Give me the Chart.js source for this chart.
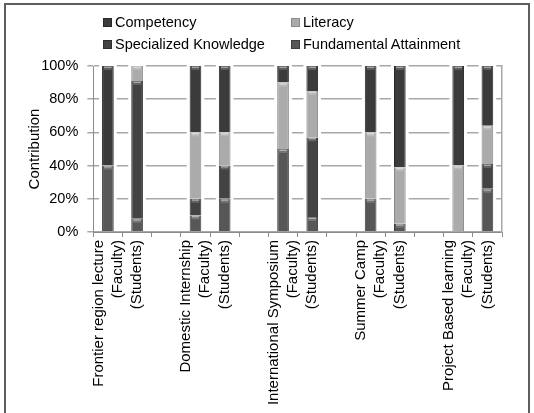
<!DOCTYPE html>
<html>
<head>
<meta charset="utf-8">
<script src="https://cdn.jsdelivr.net/npm/chart.js@4.4.1/dist/chart.umd.min.js"></script>
<style>
  html, body { margin: 0; padding: 0; background: #fff; }
  #wrap { position: relative; width: 534px; height: 413px; overflow: hidden; font-family: "Liberation Sans", Arial, sans-serif; }
  #frame { position: absolute; left: 4px; top: 3px; width: 526px; height: 420px; border: 2px solid #5e5e5e; box-sizing: border-box; }
  #chart { position: absolute; left: 0; top: 0; }
  #legend { position: absolute; left: 103px; top: 11px; display: grid; grid-template-columns: 188px 188px; grid-auto-rows: 22px; font-size: 14.5px; color: #000; }
  .item { display: flex; align-items: center; white-space: nowrap; }
  .box { width: 9px; height: 9px; margin-right: 3px; box-sizing: border-box; }
</style>
</head>
<body>
<div id="wrap">
  <div id="frame"></div>
  <canvas id="chart" width="534" height="413"></canvas>
  <div id="legend"></div>
</div>
<script>
// Category slots (empty strings are the spacer slots between activity groups)
const facultyLabels = [
  ["Frontier region lecture", "(Faculty)"], "", "",
  ["Domestic Internship", "(Faculty)"], "", "",
  ["International Symposium", "(Faculty)"], "", "",
  ["Summer Camp", "(Faculty)"], "", "",
  ["Project Based learning", "(Faculty)"], ""
];
const studentLabels = [
  "", "(Students)", "",
  "", "(Students)", "",
  "", "(Students)", "",
  "", "(Students)", "",
  "", "(Students)"
];
// Series values (percent contribution)
const fundamentalAttainment = [40, 8, null, 10, 20, null, 50, 9, null, 20, 5, null, 0, 26];
const specializedKnowledge  = [0, 83, null, 10, 20, null, 0, 48, null, 0, 0, null, 0, 15];
const literacy              = [0, 9, null, 40, 20, null, 40, 28, null, 40, 34, null, 40, 23];
const competency            = [60, 0, null, 40, 40, null, 10, 15, null, 40, 61, null, 60, 36];
// Y tick values
const yTickValues = [0, 20, 40, 60, 80, 100];
const seriesNames = ["Fundamental Attainment", "Specialized Knowledge", "Literacy", "Competency"];
const legendOrder = ["Competency", "Literacy", "Specialized Knowledge", "Fundamental Attainment"];

const colors = {
  "Fundamental Attainment": "#575757",
  "Specialized Knowledge": "#434343",
  "Literacy": "#ababab",
  "Competency": "#3b3b3b"
};
const edge = {
  "Fundamental Attainment": "#3e3e3e",
  "Specialized Knowledge": "#2e2e2e",
  "Literacy": "#8a8a8a",
  "Competency": "#282828"
};

const seriesData = [fundamentalAttainment, specializedKnowledge, literacy, competency];
const datasets = seriesNames.map((name, i) => ({
  label: name,
  data: seriesData[i],
  xAxisID: 'x',
  yAxisID: 'y',
  backgroundColor: colors[name],
  borderColor: edge[name],
  borderWidth: { left: 1, right: 1, top: 0, bottom: 0 },
  borderSkipped: false,
  categoryPercentage: 1.0,
  barPercentage: 0.4
}));

const FONT = "'Liberation Sans', Arial, sans-serif";
const LINE_H = 19;

const gapPlugin = {
  id: 'gaps',
  afterLayout(chart) {
    // let the bottom axes' label area reach the bottom of the canvas (labels are clipped to the scale box)
    ['x', 'x2'].forEach(id => {
      const s = chart.scales[id];
      s.bottom = chart.height;
      s.height = s.bottom - s.top;
    });
  },
  beforeDatasetsDraw(chart) {
    const ctx = chart.ctx, area = chart.chartArea;
    const meta = chart.getDatasetMeta(0);
    ctx.save();
    ctx.fillStyle = '#ffffff';
    meta.data.forEach((el, i) => {
      if (fundamentalAttainment[i] === null) return;
      const w = el.width;
      ctx.fillRect(el.x - w / 2 - 3, area.top - 2, w + 6, area.bottom - area.top + 1);
    });
    ctx.restore();
  },
  afterDatasetsDraw(chart) {
    const ctx = chart.ctx;
    ctx.save();
    chart.data.datasets.forEach((ds, di) => {
      const meta = chart.getDatasetMeta(di);
      meta.data.forEach((el, i) => {
        const v = ds.data[i];
        if (!v) return;
        const w = el.width;
        const left = el.x - w / 2, top = Math.min(el.y, el.base);
        ctx.fillStyle = 'rgba(255,255,255,0.55)';
        ctx.fillRect(left + 2, top + 0.5, w - 4, 1.5);
        ctx.fillStyle = 'rgba(255,255,255,0.18)';
        ctx.fillRect(left + 2, top + 2, w - 4, 2);
      });
    });
    ctx.restore();
  }
};

const tickFont = { family: FONT, size: 15, lineHeight: LINE_H + 'px' };

const chart = new Chart(document.getElementById('chart'), {
  type: 'bar',
  data: { labels: facultyLabels, datasets },
  plugins: [gapPlugin],
  options: {
    responsive: false,
    animation: false,
    devicePixelRatio: 1,
    layout: { padding: { left: 22, top: 66, right: 32, bottom: 181 } },
    plugins: { legend: { display: false }, tooltip: { enabled: false } },
    scales: {
      x: {
        stacked: true,
        position: 'bottom',
        offset: true,
        afterFit: (s) => { s.height = 0; },
        grid: { offset: true, drawOnChartArea: false, drawTicks: true, tickLength: 5, color: '#8c8c8c', lineWidth: 1 },
        border: { display: true, color: '#8c8c8c', width: 1 },
        ticks: {
          autoSkip: false, minRotation: 90, maxRotation: 90, padding: 3,
          labelOffset: -LINE_H / 2,
          color: '#000', font: tickFont
        }
      },
      x2: {
        type: 'category',
        position: 'bottom',
        labels: studentLabels,
        offset: true,
        afterFit: (s) => { s.height = 0; },
        grid: { display: true, offset: true, drawOnChartArea: false, drawTicks: true, tickLength: 5, color: 'rgba(0,0,0,0)' },
        border: { display: false },
        ticks: {
          autoSkip: false, minRotation: 90, maxRotation: 90, padding: 3,
          color: '#000', font: tickFont
        }
      },
      y: {
        stacked: true,
        min: 0, max: 100,
        afterFit: (s) => { s.width = 71.3; },
        afterBuildTicks: (s) => { s.ticks = yTickValues.map(v => ({ value: v })); },
        grid: { color: '#a8a8a8', lineWidth: 1.5, tickLength: 6, drawTicks: true },
        border: { display: true, color: '#8c8c8c', width: 1 },
        ticks: {
          padding: 9, color: '#000',
          font: { family: FONT, size: 14.5 },
          callback: (v) => v + '%'
        },
        title: { display: true, text: 'Contribution', color: '#000', font: { family: FONT, size: 15 }, padding: { top: 4, bottom: 4 } }
      },
      y2: {
        position: 'right',
        min: 0, max: 100,
        afterFit: (s) => { s.width = 0; },
        grid: { drawOnChartArea: false, drawTicks: false },
        border: { display: true, color: '#a8a8a8', width: 1.5 },
        ticks: { display: false }
      }
    }
  }
});

// HTML legend built from the chart's datasets
const legendEl = document.getElementById('legend');
legendOrder.forEach(name => {
  const ds = chart.data.datasets.find(d => d.label === name);
  const item = document.createElement('div');
  item.className = 'item';
  const box = document.createElement('span');
  box.className = 'box';
  box.style.background = ds.backgroundColor;
  box.style.border = '1px solid ' + ds.borderColor;
  const txt = document.createElement('span');
  txt.textContent = ds.label;
  item.appendChild(box); item.appendChild(txt);
  legendEl.appendChild(item);
});
</script>
</body>
</html>
